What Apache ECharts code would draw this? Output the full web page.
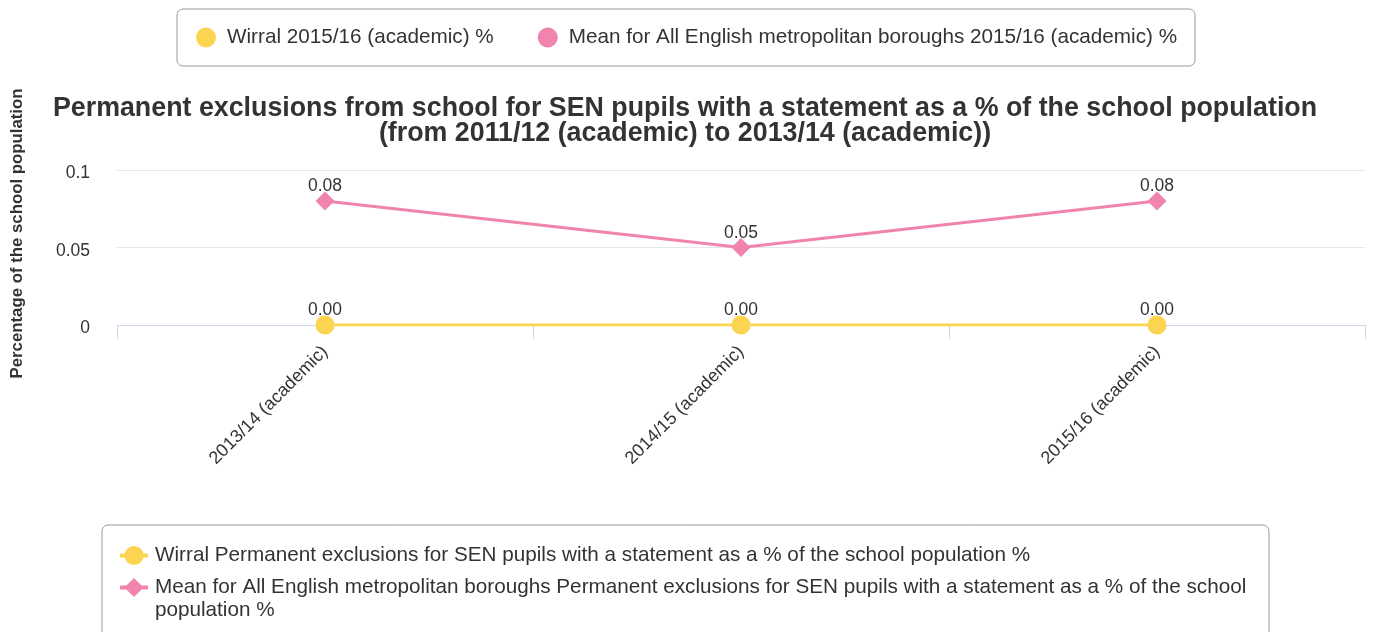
<!DOCTYPE html>
<html>
<head>
<meta charset="utf-8">
<style>
  html, body { margin: 0; padding: 0; background: #fff; }
  #chart { width: 1378px; height: 632px; }
</style>
<script src="https://cdn.jsdelivr.net/npm/echarts@6/dist/echarts.min.js"></script>
</head>
<body>
<div id="chart"></div>
<script>
// Academic years on the x axis
const categories = ['2013/14 (academic)', '2014/15 (academic)', '2015/16 (academic)'];

// Permanent exclusions for SEN pupils with a statement, % of school population
const wirralValues = [0.00, 0.00, 0.00];
const meanValues = [0.08, 0.05, 0.08];

// Y axis ticks
const yTicks = [0, 0.05, 0.1];

const seriesNames = {
  wirral: 'Wirral Permanent exclusions for SEN pupils with a statement as a % of the school population %',
  mean: 'Mean for All English metropolitan boroughs Permanent exclusions for SEN pupils with a statement as a % of the school population %'
};
const summaryNames = {
  wirral: 'Wirral 2015/16 (academic) %',
  mean: 'Mean for All English metropolitan boroughs 2015/16 (academic) %'
};

const YELLOW = '#fdd44f';
const PINK = '#f084ae';
const FONT = '"Liberation Sans", Arial, sans-serif';

const chart = echarts.init(document.getElementById('chart'));

const labelStyle = {
  show: true,
  position: 'top',
  distance: 2,
  offset: [0, 6],
  fontSize: 17.5,
  fontFamily: FONT,
  color: '#333',
  formatter: p => p.value.toFixed(2)
};

chart.setOption({
  animation: false,
  textStyle: { fontFamily: FONT },
  title: {
    text: 'Permanent exclusions from school for SEN pupils with a statement as a % of the school population\n(from 2011/12 (academic) to 2013/14 (academic))',
    left: 680,
    top: 91,
    textAlign: 'center',
    textStyle: {
      fontSize: 26.8,
      fontWeight: 'bold',
      color: '#333',
      lineHeight: 25,
      fontFamily: FONT
    }
  },
  legend: [
    {
      data: [summaryNames.wirral, summaryNames.mean],
      left: 177,
      top: 9,
      icon: 'circle',
      itemWidth: 20,
      itemHeight: 20,
      itemGap: 44,
      padding: [18, 18, 18, 19],
      borderColor: '#999',
      borderWidth: 1,
      borderRadius: 6,
      selectedMode: false,
      textStyle: { fontSize: 20.7, color: '#333', fontFamily: FONT, padding: [0, 0, 0, 6] }
    },
    {
      data: [seriesNames.wirral, seriesNames.mean],
      orient: 'vertical',
      left: 102,
      top: 525,
      height: 140,
      itemWidth: 28,
      itemHeight: 24,
      itemGap: -14,
      padding: [19, 15, 20, 16],
      borderColor: '#999',
      borderWidth: 1,
      borderRadius: 6,
      selectedMode: false,
      lineStyle: { width: 4 },
      // a leading blank line keeps the wrapped entry's icon level with its first line
      formatter: name => (name === seriesNames.mean ? '\n' + name : name),
      textStyle: {
        fontSize: 20.7,
        color: '#333',
        fontFamily: FONT,
        lineHeight: 23,
        width: 1099,
        overflow: 'break',
        padding: [0, 0, 0, 2]
      }
    }
  ],
  grid: { left: 117, right: 13, top: 170, bottom: 307, outerBoundsMode: 'none' },
  xAxis: {
    type: 'category',
    data: categories,
    boundaryGap: true,
    axisLine: { lineStyle: { color: '#ccd6eb', width: 1 } },
    axisTick: { show: true, length: 14, lineStyle: { color: '#ccd6eb' } },
    axisLabel: {
      rotate: 45,
      fontSize: 18,
      color: '#333',
      fontFamily: FONT,
      margin: 24
    }
  },
  yAxis: {
    type: 'value',
    min: yTicks[0],
    max: yTicks[yTicks.length - 1],
    interval: yTicks[1] - yTicks[0],
    name: 'Percentage of the school population',
    nameLocation: 'middle',
    nameGap: 91,
    nameTextStyle: {
      fontSize: 16.8,
      fontWeight: 'bold',
      color: '#333',
      fontFamily: FONT,
      padding: [0, 0, 0, 28]
    },
    axisLine: { show: false },
    axisTick: { show: false },
    splitLine: { lineStyle: { color: '#e6e6e6' } },
    axisLabel: {
      fontSize: 17.5,
      color: '#333',
      fontFamily: FONT,
      margin: 27,
      verticalAlign: 'top',
      lineHeight: 7,
      formatter: v => String(v)
    }
  },
  series: [
    {
      name: seriesNames.wirral,
      type: 'line',
      data: wirralValues,
      color: YELLOW,
      symbol: 'circle',
      symbolSize: 19,
      lineStyle: { width: 3, color: YELLOW },
      itemStyle: { color: YELLOW },
      label: labelStyle,
      z: 3
    },
    {
      name: seriesNames.mean,
      type: 'line',
      data: meanValues,
      color: PINK,
      symbol: 'diamond',
      symbolSize: 19,
      lineStyle: { width: 3, color: PINK },
      itemStyle: { color: PINK },
      label: labelStyle,
      z: 2
    },
    // Latest-year summary entries for the top key
    { name: summaryNames.wirral, type: 'line', data: [], color: YELLOW, itemStyle: { color: YELLOW } },
    { name: summaryNames.mean, type: 'line', data: [], color: PINK, itemStyle: { color: PINK } }
  ]
});
</script>
</body>
</html>
